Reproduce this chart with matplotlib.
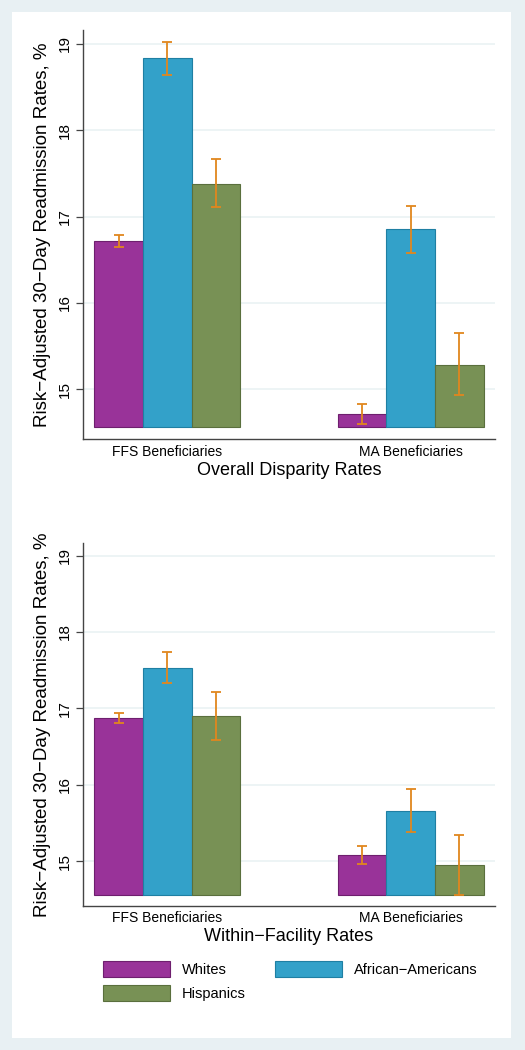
import numpy as np
import matplotlib
matplotlib.use("Agg")
import matplotlib.pyplot as plt
from matplotlib.patches import Rectangle, Patch

plt.rcParams['font.family'] = ['Liberation Sans', 'DejaVu Sans']

groups = ["FFS Beneficiaries", "MA Beneficiaries"]
races = ["Whites", "African\u2212Americans", "Hispanics"]

# overall disparity rates: [FFS, MA] per race
overall_rate = {
    "Whites": [16.72, 14.71],
    "African\u2212Americans": [18.84, 16.85],
    "Hispanics": [17.38, 15.28],
}
overall_lo = {
    "Whites": [16.65, 14.60],
    "African\u2212Americans": [18.64, 16.58],
    "Hispanics": [17.11, 14.93],
}
overall_hi = {
    "Whites": [16.79, 14.83],
    "African\u2212Americans": [19.02, 17.12],
    "Hispanics": [17.67, 15.65],
}

# within-facility rates
within_rate = {
    "Whites": [16.87, 15.08],
    "African\u2212Americans": [17.53, 15.66],
    "Hispanics": [16.90, 14.95],
}
within_lo = {
    "Whites": [16.81, 14.96],
    "African\u2212Americans": [17.33, 15.38],
    "Hispanics": [16.59, 14.56],
}
within_hi = {
    "Whites": [16.94, 15.20],
    "African\u2212Americans": [17.74, 15.95],
    "Hispanics": [17.21, 15.35],
}

yticks = [15, 16, 17, 18, 19]
base = 14.56

colors = {
    "Whites": ("#993399", "#6e1f6e"),
    "African\u2212Americans": ("#33a1c9", "#1f7fa3"),
    "Hispanics": ("#789155", "#5a6f3d"),
}
err_color = "#e1871e"
bg = "#e8f0f3"

fig = plt.figure(figsize=(5.25, 10.5), dpi=100, facecolor=bg)
fig.patches.append(Rectangle((12 / 525, 1 - 1038 / 1050), 499 / 525, 1026 / 1050,
                             transform=fig.transFigure, facecolor="white",
                             edgecolor="none", zorder=-5))

ax_top = fig.add_axes([0.1575, 0.5816, 0.7855, 0.3898])
ax_bot = fig.add_axes([0.1575, 0.1374, 0.7855, 0.3452])

x = np.arange(len(groups))
w = 0.2


def draw(ax, rate, lo, hi, xlabel):
    ax.set_facecolor("none")
    for i, r in enumerate(races):
        pos = x + (i - 1) * w
        vals = np.array(rate[r])
        ax.bar(pos, vals - base, bottom=base, width=w, color=colors[r][0],
               edgecolor=colors[r][1], linewidth=0.8, zorder=2)
        lo_v = np.array(lo[r])
        hi_v = np.array(hi[r])
        mid = (lo_v + hi_v) / 2
        ax.errorbar(pos, mid, yerr=(hi_v - lo_v) / 2, fmt="none", ecolor=err_color,
                    elinewidth=1.3, capsize=3.5, capthick=1.3, zorder=3)
    ax.set_xlim(-0.348, 1.347)
    ax.set_ylim(14.42, 19.16)
    ax.set_yticks(yticks)
    ax.set_yticklabels([str(t) for t in yticks], rotation=90, va="center", fontsize=11)
    ax.set_xticks(x)
    ax.set_xticklabels(groups, fontsize=10)
    ax.tick_params(axis="x", length=0, pad=4)
    ax.tick_params(axis="y", length=5, width=0.9, color="#444444", pad=3)
    ax.grid(axis="y", color="#eaf2f3", linewidth=1.2, zorder=0)
    ax.set_axisbelow(True)
    for s in ["top", "right"]:
        ax.spines[s].set_visible(False)
    for s in ["left", "bottom"]:
        ax.spines[s].set_color("#444444")
        ax.spines[s].set_linewidth(1.0)
    ax.set_ylabel("Risk\u2212Adjusted 30\u2212Day Readmission Rates, %", fontsize=13.5, labelpad=5)
    ax.set_xlabel(xlabel, fontsize=13, labelpad=2)


draw(ax_top, overall_rate, overall_lo, overall_hi, "Overall Disparity Rates")
draw(ax_bot, within_rate, within_lo, within_hi, "Within\u2212Facility Rates")

handles = [Patch(facecolor=colors[r][0], edgecolor=colors[r][1], linewidth=0.8) for r in races]
order = [0, 2, 1]
fig.legend([handles[i] for i in order], [races[i] for i in order],
           loc="upper left", bbox_to_anchor=(103 / 525, 1 - 961 / 1050),
           ncol=2, frameon=False, fontsize=10.5, borderpad=0, borderaxespad=0,
           handlelength=4.6, handleheight=1.3, handletextpad=0.8,
           columnspacing=2.0, labelspacing=0.55)

fig.savefig("out.png", dpi=100, facecolor=bg)
